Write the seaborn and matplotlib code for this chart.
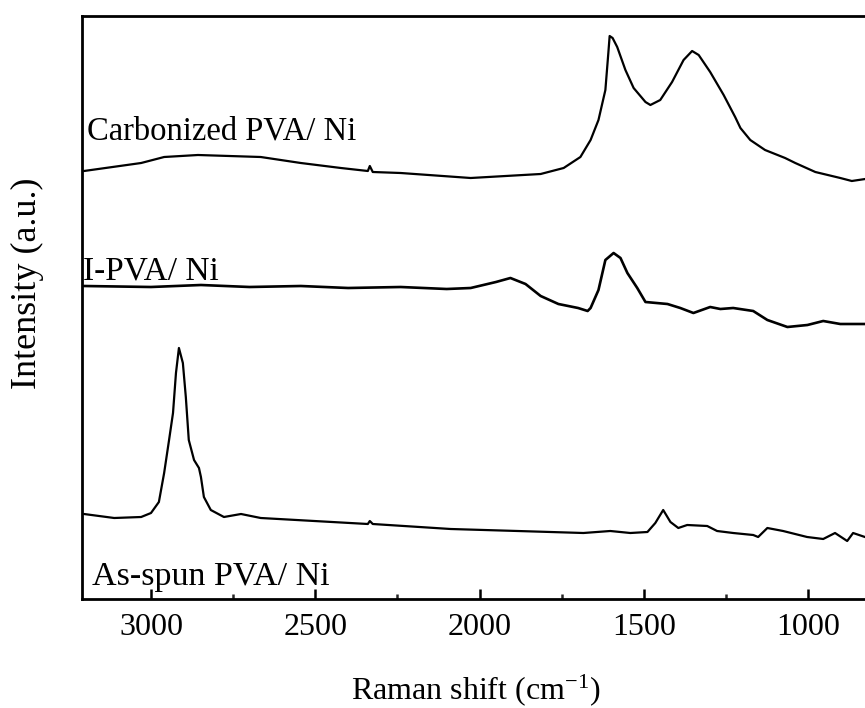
import numpy as np
import pandas as pd
import seaborn as sns
import matplotlib
matplotlib.use("Agg")
import matplotlib.pyplot as plt
from matplotlib.ticker import MultipleLocator

# ---- data (Raman shift in cm^-1, intensity in arbitrary units) ----
carb_x = [3204, 3030, 2960, 2857, 2666, 2544, 2422, 2340, 2334, 2325, 2240, 2027,
          1814, 1744, 1693, 1662, 1638, 1617, 1608, 1604, 1595, 1581, 1556, 1531,
          1495, 1480, 1450, 1414, 1379, 1353, 1333, 1298, 1257, 1222, 1206, 1176,
          1131, 1070, 1039, 978, 902, 867, 826, 800]
carb_y = [429, 437, 443, 445, 443, 437, 432, 429, 434, 428, 427, 422,
          426, 432, 443, 460, 480, 510, 547, 564, 562, 553, 530, 512,
          498, 495, 500, 518, 540, 549, 545, 528, 505, 483, 472, 460,
          450, 442, 437, 428, 422, 419, 421, 421]

ipva_x = [3204, 3000, 2848, 2700, 2544, 2400, 2240, 2100, 2027, 1950, 1906, 1860,
          1814, 1760, 1700, 1671, 1662, 1638, 1617, 1592, 1571, 1550, 1520, 1495,
          1428, 1389, 1349, 1298, 1267, 1228, 1167, 1124, 1063, 1002, 954, 902,
          827, 800]
ipva_y = [314, 313, 315, 313, 314, 312, 313, 311, 312, 318, 322, 316,
          304, 296, 292, 289, 292, 310, 340, 347, 342, 327, 312, 298,
          296, 292, 287, 293, 291, 292, 289, 280, 273, 275, 279, 276,
          276, 276]

asp_x = [3204, 3112, 3030, 3000, 2976, 2960, 2945, 2933, 2924, 2915, 2903, 2894,
         2885, 2869, 2854, 2848, 2839, 2818, 2778, 2726, 2666, 2340, 2334, 2325,
         2088, 1884, 1684, 1602, 1541, 1489, 1465, 1441, 1419, 1395, 1368, 1307,
         1277, 1228, 1167, 1152, 1124, 1076, 1003, 954, 918, 881, 863, 827, 800]
asp_y = [86, 82, 83, 87, 98, 127, 160, 187, 227, 252, 237, 203,
         160, 140, 132, 123, 103, 90, 83, 86, 82, 76, 79, 76,
         71, 69, 67, 69, 67, 68, 77, 90, 78, 72, 75, 74,
         69, 67, 65, 63, 72, 69, 63, 61, 67, 59, 67, 63, 62]

labels = ["Carbonized PVA/ Ni", "I-PVA/ Ni", "As-spun PVA/ Ni"]
x_ticks = [3000, 2500, 2000, 1500, 1000]

df = pd.concat([
    pd.DataFrame({"shift": carb_x, "I": carb_y, "s": labels[0]}),
    pd.DataFrame({"shift": ipva_x, "I": ipva_y, "s": labels[1]}),
    pd.DataFrame({"shift": asp_x, "I": asp_y, "s": labels[2]}),
])

sns.set_theme(style="ticks")
plt.rcParams["font.family"] = ["Liberation Serif", "DejaVu Serif"]
plt.rcParams["mathtext.fontset"] = "custom"
plt.rcParams["mathtext.rm"] = "Liberation Serif"
plt.rcParams["mathtext.default"] = "regular"
plt.rcParams["text.color"] = "black"

fig = plt.figure(figsize=(8.65, 7.08), dpi=100)
ax = fig.add_axes([82/865, 1-599/708, (873.8-82)/865, (599-16)/708])

widths = {labels[0]: 1.6, labels[1]: 1.9, labels[2]: 1.6}
for name in labels:
    sub = df[df["s"] == name]
    sns.lineplot(data=sub, x="shift", y="I", ax=ax, color="black", lw=widths[name],
                 estimator=None, sort=False, legend=False)

ax.set_xlim(3210, 800)
ax.set_ylim(1, 584)
ax.set_xticks(x_ticks)
ax.set_xticklabels([str(t) for t in x_ticks])
ax.xaxis.set_minor_locator(MultipleLocator(250))
ax.set_yticks([])
ax.tick_params(axis="x", which="major", direction="in", length=7, width=1.8,
               labelsize=23, pad=10, colors="black")
ax.tick_params(axis="x", which="minor", direction="in", length=3.5, width=1.8)
for sp in ax.spines.values():
    sp.set_linewidth(2)
    sp.set_color("black")
ax.set_xlabel("")
ax.set_ylabel("")

ax.text(3195, 461, labels[0], fontsize=23.5, va="baseline", ha="left", color="black")
ax.text(3207, 321, labels[1], fontsize=24, va="baseline", ha="left", color="black")
ax.text(3180, 15, labels[2], fontsize=24.5, va="baseline", ha="left", color="black")

fig.text(476/865, 1-690/708, "Raman shift (cm$^{-1}$)", fontsize=23,
         ha="center", va="center", color="black")
fig.text(27/865, 1-283/708, "Intensity (a.u.)", fontsize=26, rotation=90,
         ha="center", va="center", color="black")

fig.savefig("out.png", dpi=100)
